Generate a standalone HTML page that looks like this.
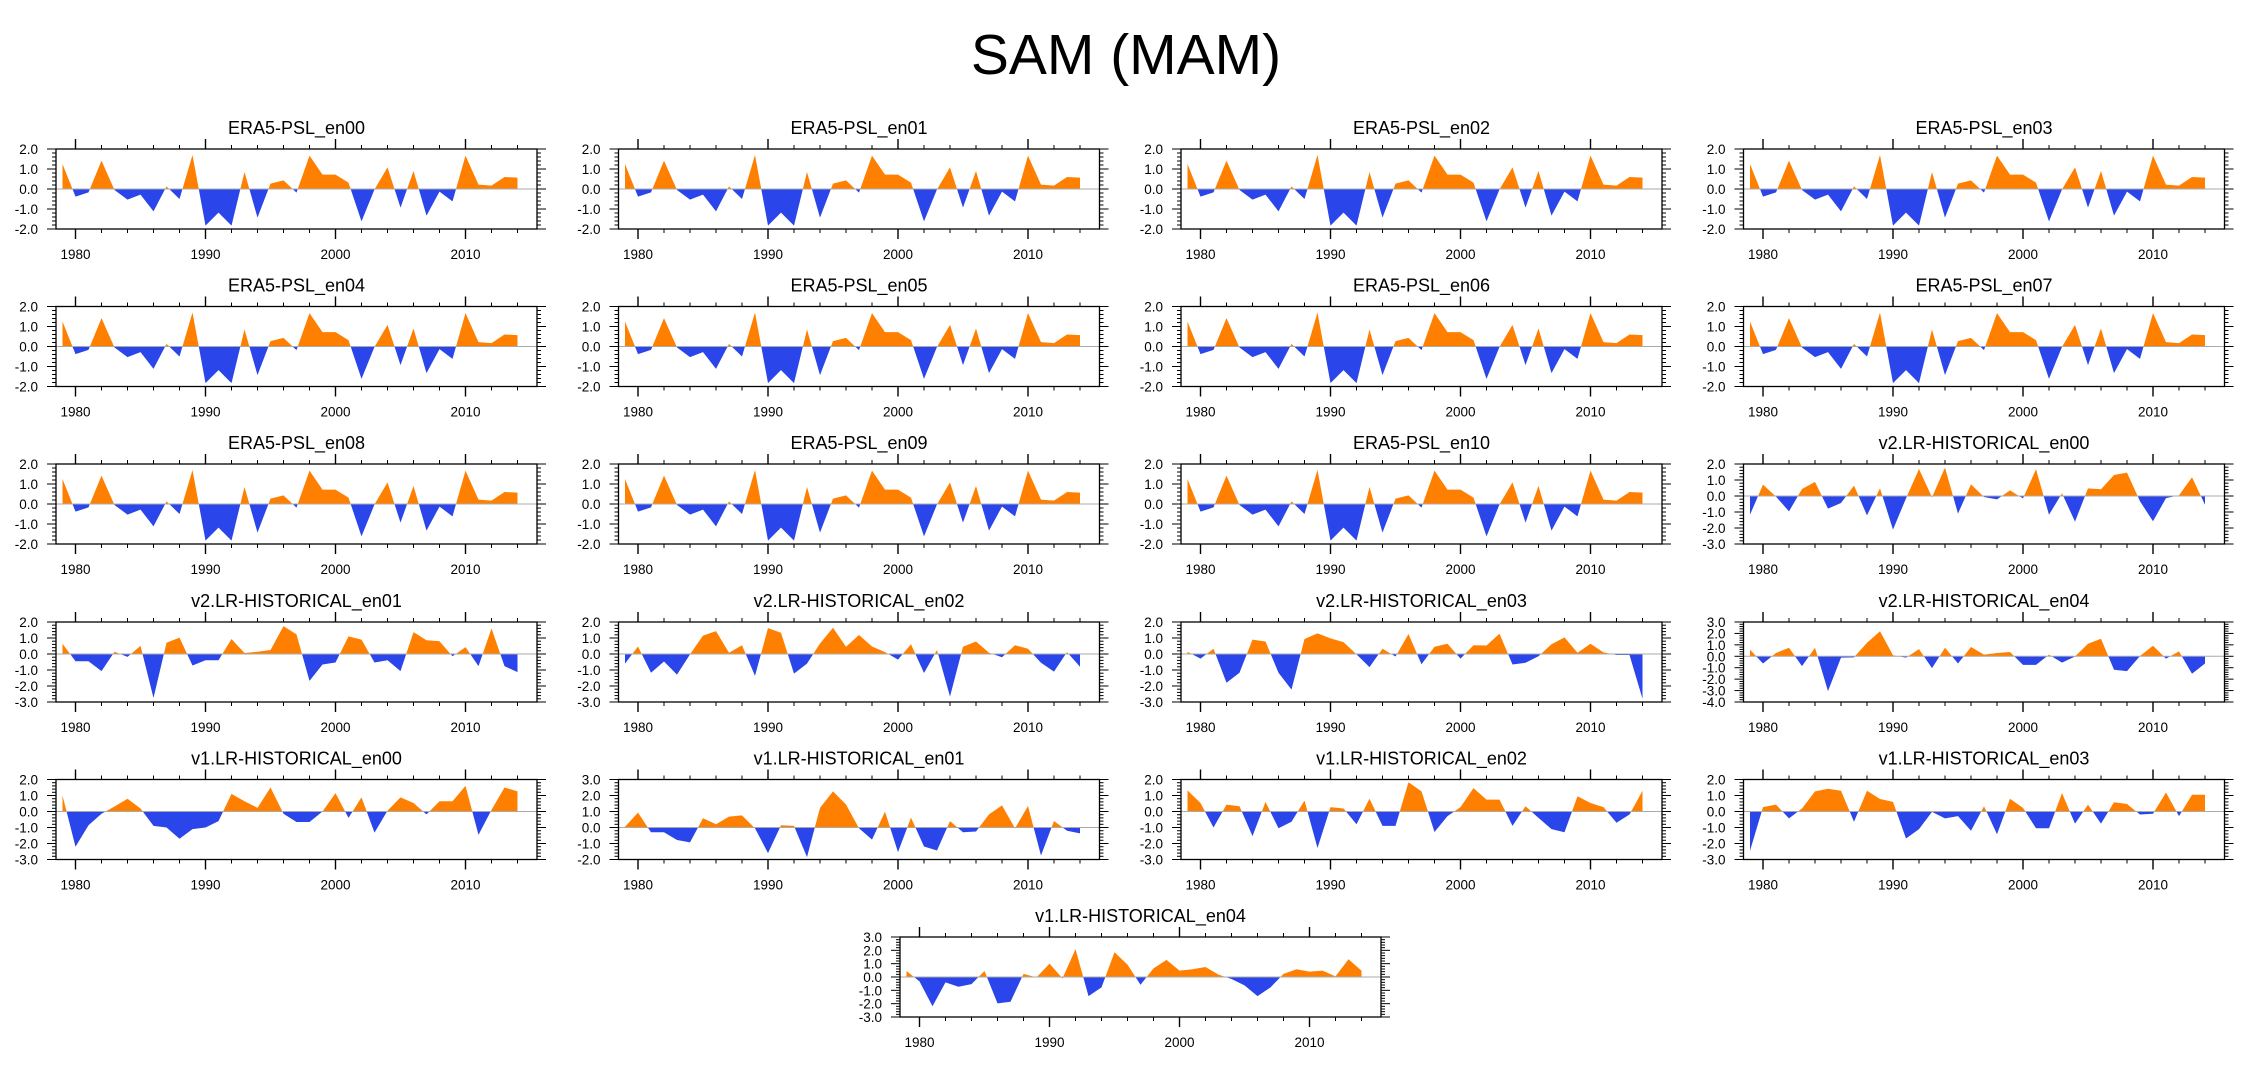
<!DOCTYPE html>
<html><head><meta charset="utf-8"><style>
html,body{margin:0;padding:0;background:#fff;}
svg{display:block;font-family:"Liberation Sans",Arial,sans-serif;}
</style></head><body>
<svg id="chart" width="2252" height="1078" viewBox="0 0 2252 1078" xmlns="http://www.w3.org/2000/svg">
<rect width="2252" height="1078" fill="#fff"/>
<text x="1126" y="74" font-size="57" text-anchor="middle" fill="#000">SAM (MAM)</text>
</svg>
<script>
const years = [];
for (let y = 1979; y <= 2014; y++) years.push(y);
const xTickLabels = [1980, 1990, 2000, 2010];
const era5 = [1.25,-0.38,-0.17,1.42,-0.05,-0.53,-0.28,-1.12,0.13,-0.5,1.7,-1.83,-1.18,-1.83,0.85,-1.43,0.27,0.43,-0.18,1.67,0.72,0.72,0.32,-1.62,-0.02,1.08,-0.93,0.9,-1.33,-0.13,-0.62,1.67,0.22,0.17,0.6,0.57];
const v2en00 = [-1.17,0.71,-0.04,-0.96,0.44,0.88,-0.79,-0.44,0.65,-1.21,0.48,-2.1,-0.15,1.69,-0.08,1.77,-1.1,0.73,-0.06,-0.21,0.35,-0.15,1.67,-1.17,0.17,-1.6,0.48,0.42,1.31,1.46,-0.33,-1.58,-0.13,0.04,1.17,-0.55];
const v2en01 = [0.64,-0.45,-0.45,-1.07,0.14,-0.18,0.51,-2.75,0.7,1.02,-0.72,-0.39,-0.39,0.94,0.06,0.14,0.25,1.74,1.23,-1.68,-0.66,-0.53,1.1,0.9,-0.53,-0.39,-1.07,1.37,0.86,0.8,-0.14,0.43,-0.76,1.6,-0.76,-1.13];
const v2en02 = [-0.6,0.47,-1.17,-0.47,-1.29,-0.02,1.15,1.43,0.08,0.55,-1.37,1.62,1.33,-1.23,-0.6,0.66,1.64,0.45,1.19,0.47,0.12,-0.35,0.61,-1.19,0.25,-2.66,0.45,0.78,0.08,-0.2,0.55,0.33,-0.55,-1.1,0.12,-0.8];
const v2en03 = [0.14,-0.29,0.33,-1.8,-1.17,0.9,0.78,-1.17,-2.23,0.94,1.29,0.98,0.74,-0.02,-0.82,0.33,-0.16,1.25,-0.64,0.45,0.64,-0.29,0.55,0.53,1.27,-0.66,-0.55,-0.14,0.61,1.04,0.08,0.64,0.1,-0.06,-0.06,-2.8];
const v2en04 = [0.58,-0.63,0.29,0.75,-0.86,0.75,-3.05,-0.12,-0.09,1.18,2.19,0.09,-0.12,0.63,-1.04,0.75,-0.63,0.81,0.14,0.29,0.37,-0.75,-0.75,0.14,-0.55,-0.02,1.1,1.53,-1.18,-1.3,0.02,0.92,-0.2,0.43,-1.53,-0.63];
const v1en00 = [1.0,-2.2,-0.86,-0.14,0.31,0.8,0.19,-0.9,-1.0,-1.7,-1.1,-1.0,-0.6,1.1,0.64,0.23,1.5,-0.14,-0.66,-0.66,0.0,1.15,-0.4,0.88,-1.32,0.05,0.88,0.53,-0.18,0.64,0.64,1.6,-1.46,0.1,1.5,1.26];
const v1en01 = [0.05,0.93,-0.3,-0.3,-0.78,-0.93,0.58,0.2,0.68,0.76,-0.05,-1.6,0.14,0.1,-1.85,1.23,2.26,1.44,-0.05,-0.76,0.99,-1.54,0.62,-1.19,-1.44,0.4,-0.3,-0.25,0.82,1.38,-0.05,1.34,-1.75,0.41,-0.2,-0.37];
const v1en02 = [1.32,0.53,-1.0,0.43,0.33,-1.54,0.6,-1.05,-0.64,0.68,-2.28,0.27,0.19,-0.8,0.8,-0.9,-0.9,1.83,1.26,-1.28,-0.29,0.27,1.46,0.74,0.74,-0.9,0.33,-0.4,-1.1,-1.3,0.95,0.53,0.27,-0.7,-0.19,1.3];
const v1en03 = [-2.45,0.27,0.43,-0.43,0.19,1.26,1.42,1.3,-0.64,1.3,0.78,0.6,-1.69,-1.1,-0.02,-0.43,-0.29,-1.2,0.33,-1.42,0.8,0.23,-1.05,-1.05,1.15,-0.76,0.43,-0.76,0.58,0.47,-0.19,-0.14,1.19,-0.29,1.05,1.05];
const v1en04 = [0.45,-0.33,-2.19,-0.4,-0.73,-0.53,0.45,-1.98,-1.86,0.23,-0.03,1.0,-0.1,2.09,-1.43,-0.78,1.86,0.93,-0.58,0.65,1.28,0.48,0.58,0.75,0.18,-0.15,-0.63,-1.43,-0.78,0.23,0.58,0.4,0.48,0.05,1.33,0.48];

const svg = document.getElementById('chart');
const NS = 'http://www.w3.org/2000/svg';
function mk(tag, attrs, parent){
  const e = document.createElementNS(NS, tag);
  for (const k in attrs) e.setAttribute(k, attrs[k]);
  (parent||svg).appendChild(e);
  return e;
}
const W = 481, H = 80, X0 = 1978.5, X1 = 2015.5;
let clipId = 0;

function panel(left, top, title, vals, ymax, ymin, slug){
  const g = mk('g', {});
  
  
  const xs = v => left + (v - X0) / (X1 - X0) * W;
  const ys = v => top + (ymax - v) / (ymax - ymin) * H;
  const zy = ys(0);
  const t = mk('text', {x: left + W/2, y: top - 15, 'font-size': 18, 'text-anchor': 'middle', fill: '#000'}, g);
  t.textContent = title;
  
  
  let pts = xs(years[0]) + ',' + zy + ' ';
  years.forEach((yr, i) => { pts += xs(yr) + ',' + ys(vals[i]) + ' '; });
  pts += xs(years[years.length-1]) + ',' + zy;
  const ida = 'ca' + (clipId++), idb = 'cb' + (clipId++);
  const cpa = mk('clipPath', {id: ida}, g); mk('rect', {x: left, y: top - 5, width: W, height: zy - top + 5}, cpa);
  const cpb = mk('clipPath', {id: idb}, g); mk('rect', {x: left, y: zy, width: W, height: top + H - zy + 5}, cpb);
  const pa = mk('polygon', {points: pts, fill: '#ff8000', 'clip-path': 'url(#' + ida + ')'}, g);
  
  
  const pb = mk('polygon', {points: pts, fill: '#2a45ea', 'clip-path': 'url(#' + idb + ')'}, g);
  
  
  mk('line', {x1: left, x2: left + W, y1: zy, y2: zy, stroke: '#aaa', 'stroke-width': 1}, g);
  const box = mk('rect', {x: left, y: top, width: W, height: H, fill: 'none', stroke: '#000', 'stroke-width': 1.3}, g);
  
  
  for (let yr = 1980; yr <= 2014; yr += 2){
    const x = xs(yr), major = (yr % 10 === 0), L = major ? 10 : 4;
    mk('line', {x1: x, x2: x, y1: top, y2: top - L, stroke: '#000', 'stroke-width': major ? 1.4 : 1}, g);
    mk('line', {x1: x, x2: x, y1: top + H, y2: top + H + L, stroke: '#000', 'stroke-width': major ? 1.4 : 1}, g);
  }
  xTickLabels.forEach(yr => {
    const tl = mk('text', {x: xs(yr), y: top + H + 30, 'font-size': 13.5, 'text-anchor': 'middle', fill: '#000'}, g);
    tl.textContent = yr;
    
    
  });
  for (let v = ymin; v <= ymax + 1e-6; v += 0.2){
    const vr = Math.round(v * 10) / 10, y = ys(vr);
    const major = Math.abs(vr - Math.round(vr)) < 1e-6, L = major ? 9 : 4;
    mk('line', {x1: left, x2: left - L, y1: y, y2: y, stroke: '#000', 'stroke-width': 1}, g);
    mk('line', {x1: left + W, x2: left + W + L, y1: y, y2: y, stroke: '#000', 'stroke-width': 1}, g);
    if (major){
      const yl = mk('text', {x: left - 18, y: y + 5, 'font-size': 13.5, 'text-anchor': 'end', fill: '#000'}, g);
      yl.textContent = vr.toFixed(1);
      
      
    }
  }
}

const colLeft = [56, 618.5, 1181, 1743.5];
const rowTop = [149, 306.5, 464, 622, 779.5, 937];
for (let i = 0; i <= 10; i++){
  const n = i < 10 ? '0' + i : '' + i;
  panel(colLeft[i % 4], rowTop[Math.floor(i / 4)], 'ERA5-PSL_en' + n, era5, 2, -2, 'era5-en' + n);
}
panel(colLeft[3], rowTop[2], 'v2.LR-HISTORICAL_en00', v2en00, 2, -3, 'v2-en00');
panel(colLeft[0], rowTop[3], 'v2.LR-HISTORICAL_en01', v2en01, 2, -3, 'v2-en01');
panel(colLeft[1], rowTop[3], 'v2.LR-HISTORICAL_en02', v2en02, 2, -3, 'v2-en02');
panel(colLeft[2], rowTop[3], 'v2.LR-HISTORICAL_en03', v2en03, 2, -3, 'v2-en03');
panel(colLeft[3], rowTop[3], 'v2.LR-HISTORICAL_en04', v2en04, 3, -4, 'v2-en04');
panel(colLeft[0], rowTop[4], 'v1.LR-HISTORICAL_en00', v1en00, 2, -3, 'v1-en00');
panel(colLeft[1], rowTop[4], 'v1.LR-HISTORICAL_en01', v1en01, 3, -2, 'v1-en01');
panel(colLeft[2], rowTop[4], 'v1.LR-HISTORICAL_en02', v1en02, 2, -3, 'v1-en02');
panel(colLeft[3], rowTop[4], 'v1.LR-HISTORICAL_en03', v1en03, 2, -3, 'v1-en03');
panel(900, rowTop[5], 'v1.LR-HISTORICAL_en04', v1en04, 3, -3, 'v1-en04');
</script>
</body></html>
